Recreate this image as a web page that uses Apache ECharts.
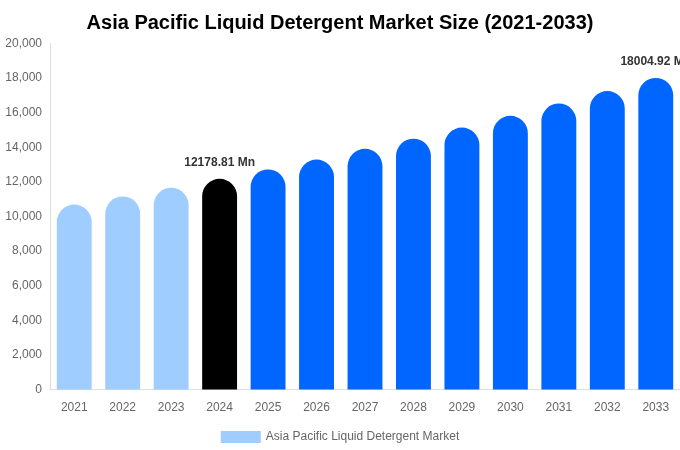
<!DOCTYPE html>
<html><head><meta charset="utf-8">
<script src="https://cdn.jsdelivr.net/npm/echarts@6/dist/echarts.min.js"></script>
<style>html,body{margin:0;padding:0;background:#fff}#c{width:680px;height:450px}</style>
</head><body><div id="c"></div>
<script>
const years = ['2021','2022','2023','2024','2025','2026','2027','2028','2029','2030','2031','2032','2033'];
const values = [10690, 11160, 11660, 12178.81, 12720, 13290, 13910, 14500, 15140, 15820, 16530, 17250, 18004.92];
const colors = ['#a0cdff','#a0cdff','#a0cdff','#000000','#0066ff','#0066ff','#0066ff','#0066ff','#0066ff','#0066ff','#0066ff','#0066ff','#0066ff'];
const labeledYears = ['2024','2033'];
const seriesName = 'Asia Pacific Liquid Detergent Market';

const chart = echarts.init(document.getElementById('c'));
chart.setOption({
  animation: false,
  title: { text: 'Asia Pacific Liquid Detergent Market Size (2021-2033)', left: 'center', top: 8,
    textStyle: { fontSize: 20, fontWeight: 'bold', color: '#000', fontFamily: 'Liberation Sans, Arial, sans-serif' } },
  legend: { bottom: 10, left: 'center', itemWidth: 40, itemHeight: 12, icon: 'rect', top: 426,
    textStyle: { color: '#666', fontSize: 12, fontFamily: 'Liberation Sans, Arial, sans-serif' },
    data: [{ name: seriesName, itemStyle: { color: '#a0cdff' } }] },
  grid: { left: 50, right: 0, top: 43.5, bottom: 60.5 },
  xAxis: { type: 'category', data: years,
    axisLine: { lineStyle: { color: '#ddd' } }, axisTick: { show: false },
    axisLabel: { color: '#666', fontSize: 12, margin: 12, fontFamily: 'Liberation Sans, Arial, sans-serif' } },
  yAxis: { type: 'value', min: 0, max: 20000, interval: 2000,
    axisLine: { show: true, lineStyle: { color: '#ddd' } }, splitLine: { show: false },
    axisLabel: { color: '#666', fontSize: 12, fontFamily: 'Liberation Sans, Arial, sans-serif',
      formatter: v => v.toLocaleString('en-US') } },
  series: [{ name: seriesName, type: 'bar', barWidth: '72%',
    data: values.map((v, i) => ({ value: v, itemStyle: { color: colors[i], borderRadius: [18, 18, 0, 0] },
      label: { show: labeledYears.includes(years[i]), position: 'top', distance: 10,
        formatter: p => p.value + ' Mn', fontWeight: 'bold', fontSize: 12, color: '#333',
        fontFamily: 'Liberation Sans, Arial, sans-serif' } })) }]
});
</script></body></html>
